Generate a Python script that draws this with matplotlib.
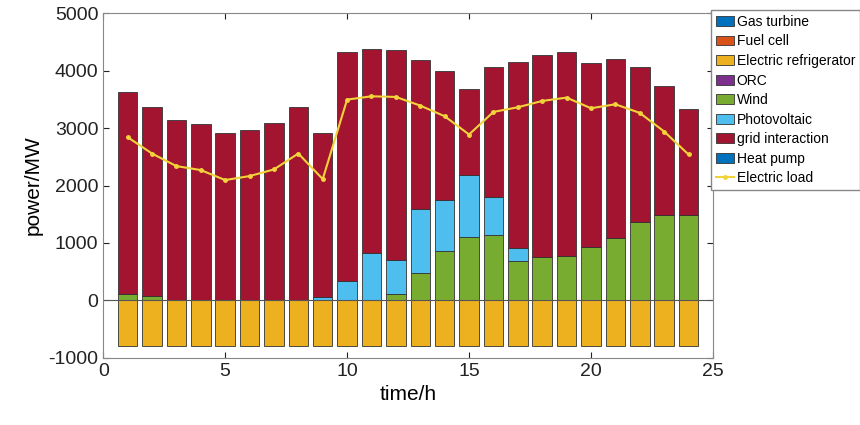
import numpy as np
import matplotlib.pyplot as plt

plt.rcParams['font.family'] = ['Liberation Sans', 'DejaVu Sans']
plt.rcParams['axes.unicode_minus'] = False

hours = np.arange(1, 25)
gas_turbine = [0] * 24
fuel_cell = [0] * 24
refrigerator = [-800] * 24
orc = [0] * 24
wind = [115, 85, 5, 0, 0, 0, 0, 0, 0, 0, 0, 115, 481, 856, 1111, 1140,
        683, 752, 776, 938, 1094, 1366, 1493, 1493]
pv = [0, 0, 0, 0, 0, 0, 0, 0, 60, 330, 821, 591, 1111, 897, 1077, 654,
      232, 0, 0, 0, 0, 0, 0, 0]
total = [3634, 3363, 3141, 3072, 2909, 2967, 3084, 3363, 2920, 4316, 4375, 4351,
         4190, 3993, 3680, 4068, 4149, 4266, 4318, 4137, 4207, 4057, 3733, 3333]
heat_pump = [0] * 24
load = [2842, 2557, 2338, 2269, 2095, 2164, 2280, 2557, 2112, 3495, 3553, 3542,
        3391, 3206, 2888, 3281, 3362, 3472, 3530, 3345, 3414, 3264, 2940, 2540]
grid = [t - w - p for t, w, p in zip(total, wind, pv)]

fig = plt.figure(figsize=(8.6, 4.25), dpi=100)
ax = fig.add_axes([0.12, 0.158, 0.709, 0.811])

ec = '#333333'
w = 0.8
handles = []
handles.append(ax.bar(hours, gas_turbine, w, color='#0072BD', edgecolor=ec, lw=0.6, label='Gas turbine'))
handles.append(ax.bar(hours, fuel_cell, w, color='#D95319', edgecolor=ec, lw=0.6, label='Fuel cell'))
handles.append(ax.bar(hours, refrigerator, w, color='#EDB120', edgecolor=ec, lw=0.6, label='Electric refrigerator'))
handles.append(ax.bar(hours, orc, w, color='#7E2F8E', edgecolor=ec, lw=0.6, label='ORC'))
handles.append(ax.bar(hours, wind, w, color='#77AC30', edgecolor=ec, lw=0.6, label='Wind'))
handles.append(ax.bar(hours, pv, w, bottom=wind, color='#4DBEEE', edgecolor=ec, lw=0.6, label='Photovoltaic'))
bot = [a + b for a, b in zip(wind, pv)]
handles.append(ax.bar(hours, grid, w, bottom=bot, color='#A2142F', edgecolor=ec, lw=0.6, label='grid interaction'))
handles.append(ax.bar(hours, heat_pump, w, color='#0072BD', edgecolor=ec, lw=0.6, label='Heat pump'))
line, = ax.plot(hours, load, color='#F2D33A', marker='.', ms=5, lw=1.5, label='Electric load')
handles.append(line)

ax.axhline(0, color='#555555', lw=0.8)
ax.set_xlim(0, 25)
ax.set_ylim(-1000, 5000)
ax.set_xticks([0, 5, 10, 15, 20, 25])
ax.set_yticks(range(-1000, 5001, 1000))
ax.tick_params(direction='in', top=True, right=True, labelsize=14, colors='#222222', length=4)
for s in ax.spines.values():
    s.set_color('#888888')
ax.set_xlabel('time/h', fontsize=15)
ax.set_ylabel('power/MW', fontsize=15)

fig.legend(handles=handles, loc='upper left', bbox_to_anchor=(711 / 860, 1 - 10 / 425), fontsize=10,
           handlelength=1.3, handletextpad=0.2, labelspacing=0.4, borderpad=0.35,
           fancybox=False, edgecolor='#888888', framealpha=1, borderaxespad=0)

fig.savefig('out.png', dpi=100)
